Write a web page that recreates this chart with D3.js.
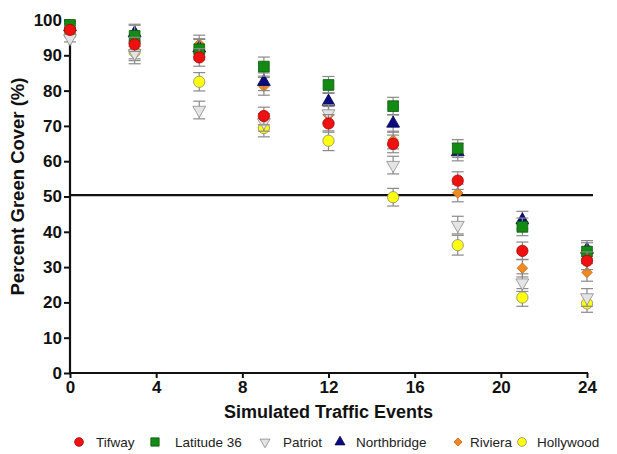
<!DOCTYPE html>
<html><head><meta charset="utf-8">
<script src="https://cdn.jsdelivr.net/npm/d3@7"></script>
<style>body{margin:0;background:#fff}svg{display:block;font-family:"Liberation Sans",Arial,sans-serif}</style>
</head><body>
<script>
const xValues = [0, 3, 6, 9, 12, 15, 18, 21, 24];
const seriesNames = ["Tifway", "Latitude 36", "Patriot", "Northbridge", "Riviera", "Hollywood"];
const tifway      = [97.2, 93.1, 89.4, 72.8, 70.7, 64.9, 54.5, 34.6, 31.8];
const latitude36  = [98.6, 95.5, 91.7, 86.8, 81.6, 75.6, 63.6, 41.4, 34.4];
const patriot     = [94.8, 90.6, 74.5, 71.0, 73.5, 58.9, 41.9, 25.6, 21.4];
const northbridge = [98.0, 96.3, 92.0, 82.5, 76.9, 70.7, 62.6, 43.3, 35.0];
const riviera     = [96.3, 91.5, 93.2, 81.2, 73.0, 66.0, 51.0, 29.7, 28.5];
const hollywood   = [96.3, 91.0, 82.5, 69.4, 65.8, 49.8, 36.2, 21.4, 19.7];
const errTifway      = [1.0, 2.0, 2.5, 2.5, 2.5, 2.5, 2.5, 2.5, 2.5];
const errLatitude36  = [1.0, 3.0, 3.0, 2.7, 2.4, 2.5, 2.5, 2.5, 2.5];
const errPatriot     = [1.0, 3.0, 2.5, 2.5, 2.5, 2.5, 2.5, 2.5, 2.5];
const errNorthbridge = [1.0, 2.5, 2.5, 2.5, 2.5, 2.5, 2.5, 2.5, 2.5];
const errRiviera     = [1.0, 2.5, 2.5, 2.5, 2.5, 2.5, 2.5, 2.5, 2.5];
const errHollywood   = [1.0, 2.5, 2.6, 2.5, 2.8, 2.5, 2.8, 2.5, 2.5];
const xTicks = [0, 4, 8, 12, 16, 20, 24];
const yTicks = [0, 10, 20, 30, 40, 50, 60, 70, 80, 90, 100];
const referenceLine = 50.4;

const seriesValues = [tifway, latitude36, patriot, northbridge, riviera, hollywood];
const seriesErrors = [errTifway, errLatitude36, errPatriot, errNorthbridge, errRiviera, errHollywood];
const styles = [
  {type: d3.symbolCircle, size: 100, rot: 0, fill: "#ee1111", stroke: "#b00000"},
  {type: d3.symbolSquare, size: 115, rot: 0, fill: "#138a13", stroke: "#0a5a0a"},
  {type: d3.symbolTriangle, size: 72, rot: 180, fill: "#e4e4e4", stroke: "#8c8c8c"},
  {type: d3.symbolTriangle, size: 72, rot: 0, fill: "#0b0b80", stroke: "#05054d"},
  {type: d3.symbolSquare, size: 55, rot: 45, fill: "#f08a1e", stroke: "#c8681a"},
  {type: d3.symbolCircle, size: 100, rot: 0, fill: "#ffff10", stroke: "#8a8a6a"}
];

const W = 617, H = 454;
const svg = d3.select("body").append("svg").attr("width", W).attr("height", H);
const x = d3.scaleLinear().domain([0, 24]).range([70, 587]);
const y = d3.scaleLinear().domain([0, 100]).range([373, 20]);

// axes
const gx = svg.append("g").attr("transform", `translate(0,${y(0)})`)
  .call(d3.axisBottom(x).tickValues(xTicks).tickSize(5).tickSizeOuter(0).tickPadding(3));
const gy = svg.append("g").attr("transform", `translate(${x(0)},0)`)
  .call(d3.axisLeft(y).tickValues(yTicks).tickSize(6).tickSizeOuter(0).tickPadding(2));
[gx, gy].forEach(g => {
  g.select(".domain").attr("stroke", "#111").attr("stroke-width", 2.2);
  g.selectAll(".tick line").attr("stroke", "#111").attr("stroke-width", 2);
  g.selectAll(".tick text").attr("fill", "#111").attr("font-size", 17).attr("font-weight", "bold")
    .attr("font-family", "Liberation Sans, Arial, sans-serif");
});
gx.select(".domain").attr("d", `M${x(0)-1},0H${x(24)+1}`);
gy.select(".domain").attr("d", `M0,${y(100)}V${y(0)+1}`);

// reference line
svg.append("line").attr("x1", x(0)).attr("x2", x(24) + 6)
  .attr("y1", y(referenceLine)).attr("y2", y(referenceLine))
  .attr("stroke", "#111").attr("stroke-width", 2.2);

// series, drawn in reverse so Tifway is on top
for (let s = seriesNames.length - 1; s >= 0; s--) {
  const vals = seriesValues[s], errs = seriesErrors[s], st = styles[s];
  const g = svg.append("g");
  const data = xValues.map((xv, i) => ({x: xv, v: vals[i], e: errs[i]}));
  const eb = g.selectAll("g.eb").data(data).join("g").attr("class", "eb")
    .attr("stroke", "#8a8a8a").attr("stroke-width", 1.2);
  eb.append("line").attr("x1", d => x(d.x)).attr("x2", d => x(d.x))
    .attr("y1", d => y(d.v + d.e)).attr("y2", d => y(d.v - d.e));
  eb.append("line").attr("x1", d => x(d.x) - 6).attr("x2", d => x(d.x) + 6)
    .attr("y1", d => y(d.v + d.e)).attr("y2", d => y(d.v + d.e));
  eb.append("line").attr("x1", d => x(d.x) - 6).attr("x2", d => x(d.x) + 6)
    .attr("y1", d => y(d.v - d.e)).attr("y2", d => y(d.v - d.e));
  g.selectAll("path.m").data(data).join("path").attr("class", "m")
    .attr("d", d3.symbol().type(st.type).size(st.size))
    .attr("transform", d => `translate(${x(d.x)},${y(d.v)}) rotate(${st.rot})`)
    .attr("fill", st.fill).attr("stroke", st.stroke).attr("stroke-width", 0.8);
}

// axis titles
svg.append("text").attr("x", (x(0) + x(24)) / 2).attr("y", 418).attr("text-anchor", "middle")
  .attr("font-size", 18).attr("font-weight", "bold").attr("fill", "#111")
  .text("Simulated Traffic Events");
svg.append("text").attr("transform", `translate(24,${(y(0) + y(100)) / 2 - 10}) rotate(-90)`)
  .attr("text-anchor", "middle").attr("font-size", 18.5).attr("font-weight", "bold").attr("fill", "#111")
  .text("Percent Green Cover (%)");

// legend
const legendX = [79, 155, 265, 340, 458, 522];
const legendTextX = [96, 175, 283, 356, 470, 537];
const lg = svg.append("g");
seriesNames.forEach((name, i) => {
  const st = styles[i];
  lg.append("path").attr("d", d3.symbol().type(st.type).size(st.size * 0.6))
    .attr("transform", `translate(${legendX[i]},442) rotate(${st.rot})`)
    .attr("fill", st.fill).attr("stroke", st.stroke).attr("stroke-width", 0.8);
  lg.append("text").attr("x", legendTextX[i]).attr("y", 447).attr("font-size", 13.5)
    .attr("fill", "#222").text(name);
});
</script>
</body></html>
